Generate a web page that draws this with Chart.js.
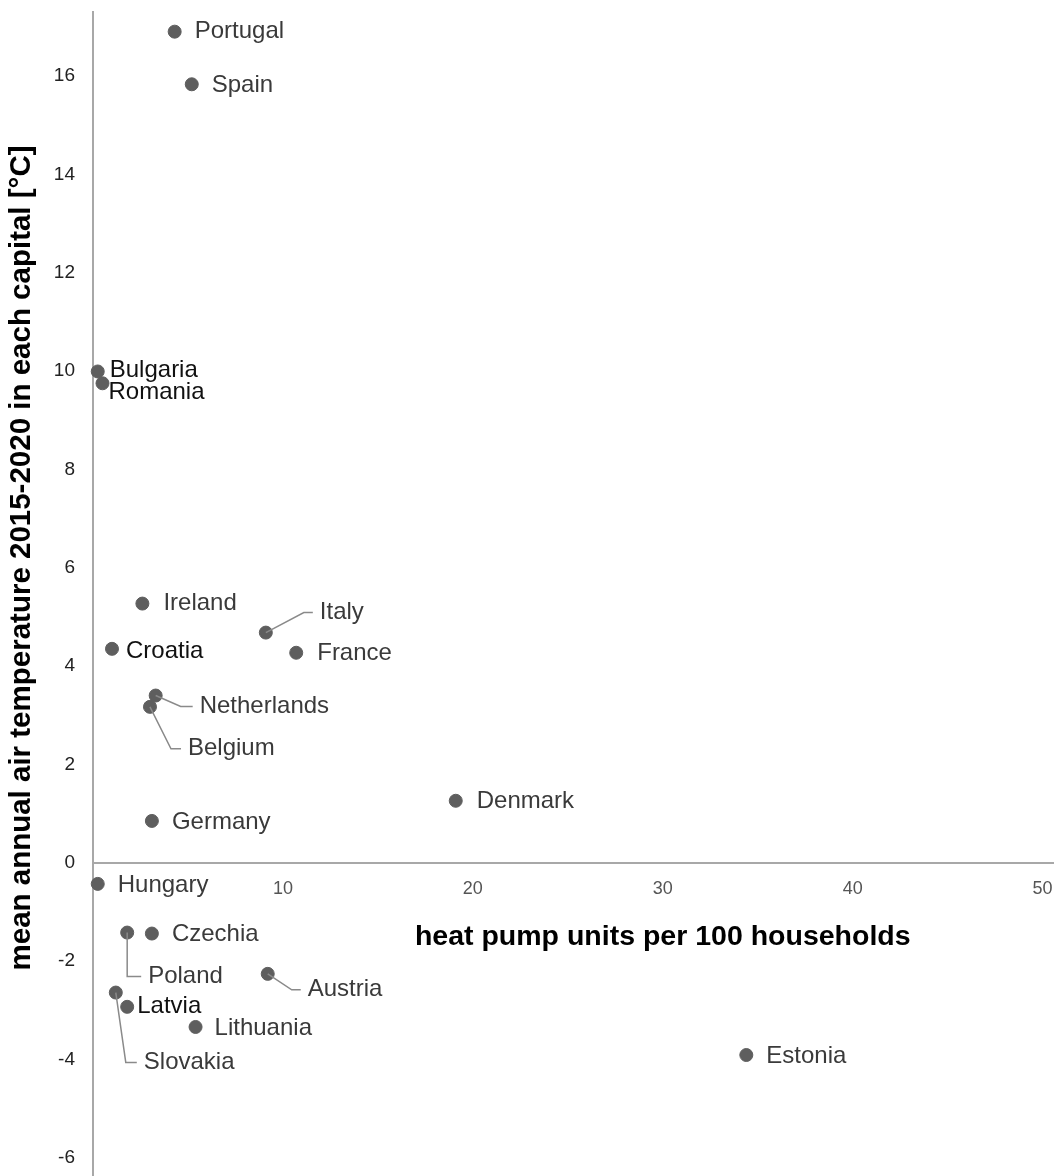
<!DOCTYPE html>
<html>
<head>
<meta charset="utf-8">
<script src="https://cdn.jsdelivr.net/npm/chart.js@4.4.1/dist/chart.umd.min.js"></script>
<style>
	body { margin: 0; background: #fff; }
	#wrap { width: 1054px; height: 1176px; position: relative; }
</style>
</head>
<body>
<div id="wrap"><canvas id="heatChart"></canvas></div>
<script>
// values
const countries = ["Portugal", "Spain", "Bulgaria", "Romania", "Ireland", "Croatia", "Italy", "France",
	"Netherlands", "Belgium", "Germany", "Denmark", "Hungary", "Poland", "Czechia", "Austria",
	"Slovakia", "Latvia", "Lithuania", "Estonia"];
const heatPumps = [4.3, 5.2, 0.25, 0.5, 2.6, 1.0, 9.1, 10.7, 3.3, 3.0, 3.1, 19.1, 0.25, 1.8, 3.1, 9.2,
	1.2, 1.8, 5.4, 34.4];
const meanTemps = [16.9, 15.83, 9.99, 9.75, 5.27, 4.35, 4.68, 4.27, 3.4, 3.17, 0.85, 1.26, -0.43, -1.42,
	-1.44, -2.26, -2.64, -2.93, -3.34, -3.91];
const xTicks = [10, 20, 30, 40, 50];
const yTicks = [-6, -4, -2, 0, 2, 4, 6, 8, 10, 12, 14, 16];

// where each label sits relative to its dot (text offset, optional leader elbow)
const labelPlace = {
	Portugal: { dx: 20, dy: 0 },
	Spain: { dx: 20, dy: 1 },
	Bulgaria: { dx: 12, dy: -1, dark: true },
	Romania: { dx: 6, dy: 9, dark: true },
	Ireland: { dx: 21, dy: 0 },
	Croatia: { dx: 14, dy: 3, dark: true },
	Italy: { dx: 54, dy: -20, elbow: [38, -20] },
	France: { dx: 21, dy: 1 },
	Netherlands: { dx: 44, dy: 11, elbow: [25, 11] },
	Belgium: { dx: 38, dy: 42, elbow: [21, 42] },
	Germany: { dx: 20, dy: 1 },
	Denmark: { dx: 21, dy: 1 },
	Hungary: { dx: 20, dy: 1 },
	Poland: { dx: 21, dy: 44, elbow: [0, 44] },
	Czechia: { dx: 20, dy: 1 },
	Austria: { dx: 40, dy: 16, elbow: [24, 16] },
	Slovakia: { dx: 28, dy: 70, elbow: [10, 70] },
	Latvia: { dx: 10, dy: 0, dark: true },
	Lithuania: { dx: 19, dy: 1 },
	Estonia: { dx: 20, dy: 1 }
};

const points = countries.map((c, i) => ({ x: heatPumps[i], y: meanTemps[i], name: c }));

const labelsPlugin = {
	id: "countryLabels",
	afterDatasetsDraw(chart) {
		const ctx = chart.ctx;
		const meta = chart.getDatasetMeta(0);
		ctx.save();
		ctx.font = "24px 'Liberation Sans', Arial, sans-serif";
		ctx.textBaseline = "middle";
		ctx.textAlign = "left";
		meta.data.forEach((el, i) => {
			const p = labelPlace[countries[i]];
			const px = el.x, py = el.y;
			if (p.elbow) {
				ctx.strokeStyle = "#8a8a8a";
				ctx.lineWidth = 1.5;
				ctx.beginPath();
				ctx.moveTo(px, py);
				ctx.lineTo(px + p.elbow[0], py + p.elbow[1]);
				ctx.lineTo(px + p.dx - 7, py + p.elbow[1]);
				ctx.stroke();
			}
			ctx.fillStyle = p.dark ? "#111" : "#3a3a3a";
			ctx.fillText(countries[i], px + p.dx, py + p.dy);
		});
		ctx.restore();
	}
};

const titlesPlugin = {
	id: "axisTitles",
	afterDraw(chart) {
		const ctx = chart.ctx;
		const xs = chart.scales.x, ys = chart.scales.y;
		ctx.save();
		ctx.fillStyle = "#000";
		ctx.textAlign = "center";
		ctx.textBaseline = "middle";
		ctx.font = "bold 28.5px 'Liberation Sans', Arial, sans-serif";
		ctx.fillText("heat pump units per 100 households", xs.getPixelForValue(30), ys.getPixelForValue(0) + 74);
		ctx.font = "bold 29.5px 'Liberation Sans', Arial, sans-serif";
		ctx.translate(22, 558);
		ctx.rotate(-Math.PI / 2);
		ctx.fillText("mean annual air temperature 2015-2020 in each capital [°C]", 0, 0);
		ctx.restore();
	}
};

const ctx = document.getElementById("heatChart").getContext("2d");
new Chart(ctx, {
	type: "scatter",
	data: {
		datasets: [{
			data: points,
			backgroundColor: "#5e5e5e",
			borderColor: "#5e5e5e",
			pointRadius: 6.5,
			pointHoverRadius: 6.5,
			clip: false
		}]
	},
	options: {
		responsive: true,
		maintainAspectRatio: false,
		animation: false,
		layout: { autoPadding: false, padding: { top: 12, bottom: 1, right: 0, left: 0 } },
		plugins: {
			legend: { display: false },
			tooltip: { enabled: false }
		},
		scales: {
			x: {
				type: "linear",
				position: { y: 0 },
				min: 0,
				max: 50.6,
				afterBuildTicks: (scale) => {
					scale.ticks = xTicks.map(v => ({ value: v }));
				},
				afterFit: (scale) => {
					scale.height = 0;
					scale.paddingLeft = 0; scale.paddingRight = 0;
					scale.paddingTop = 0; scale.paddingBottom = 0;
				},
				grid: { display: false, drawTicks: false },
				border: { display: true, color: "#a8a8a8", width: 2 },
				ticks: {
					padding: 15,
					color: "#555",
					font: { size: 18, family: "'Liberation Sans', Arial, sans-serif" }
				}
			},
			y: {
				type: "linear",
				position: "left",
				min: -6.35,
				max: 17.3,
				afterBuildTicks: (scale) => {
					scale.ticks = yTicks.map(v => ({ value: v }));
				},
				afterFit: (scale) => {
					scale.width = 93;
					scale.paddingTop = 0; scale.paddingBottom = 0;
				},
				grid: { display: false, drawTicks: false },
				border: { display: true, color: "#a8a8a8", width: 2 },
				ticks: {
					padding: 18,
					color: "#222",
					font: { size: 19, family: "'Liberation Sans', Arial, sans-serif" }
				}
			}
		}
	},
	plugins: [labelsPlugin, titlesPlugin]
});
</script>
</body>
</html>
